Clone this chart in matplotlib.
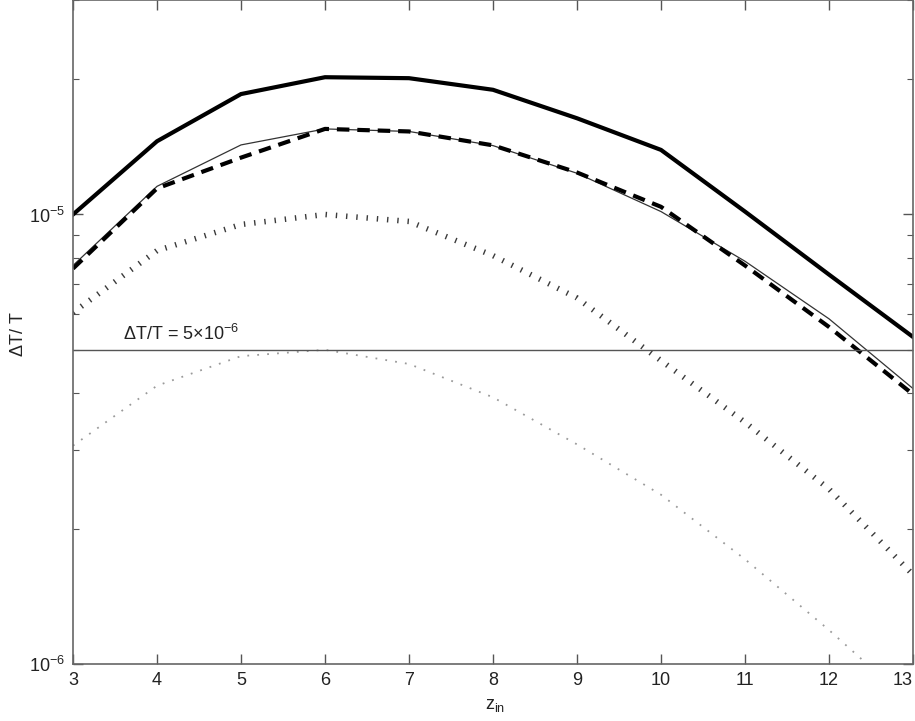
import matplotlib
matplotlib.use('Agg')
import matplotlib.pyplot as plt
from matplotlib.ticker import NullFormatter, LogLocator

plt.rcParams['font.family'] = ['Liberation Sans', 'DejaVu Sans']
plt.rcParams['mathtext.fontset'] = 'custom'
plt.rcParams['mathtext.rm'] = 'Liberation Sans'
plt.rcParams['mathtext.it'] = 'Liberation Sans:italic'
plt.rcParams['mathtext.sf'] = 'Liberation Sans'

# data (dT/T vs z_in)
z_in = [3, 4, 5, 6, 7, 8, 9, 10, 11, 12, 13]
thick_solid = [1.00e-5, 1.455e-5, 1.853e-5, 2.02e-5, 2.01e-5, 1.894e-5,
               1.637e-5, 1.392e-5, 1.015e-5, 0.735e-5, 0.534e-5]
thin_solid = [0.77e-5, 1.155e-5, 1.428e-5, 1.55e-5, 1.53e-5, 1.423e-5,
              1.235e-5, 1.015e-5, 0.787e-5, 0.586e-5, 0.41e-5]
dashed = [0.758e-5, 1.143e-5, 1.338e-5, 1.55e-5, 1.53e-5, 1.425e-5,
          1.24e-5, 1.04e-5, 0.77e-5, 0.562e-5, 0.398e-5]
thick_dotted = [0.605e-5, 0.831e-5, 0.95e-5, 1.0e-5, 0.965e-5, 0.81e-5,
                0.652e-5, 0.473e-5, 0.345e-5, 0.245e-5, 0.158e-5]
thin_dotted = [0.306e-5, 0.416e-5, 0.484e-5, 0.50e-5, 0.465e-5, 0.392e-5,
               0.308e-5, 0.238e-5, 0.171e-5, 0.119e-5, 0.081e-5]
threshold = 5e-6

fig = plt.figure(figsize=(9.15, 7.21), dpi=100)
ax = fig.add_axes([73 / 915, 57 / 721, 840 / 915, 664 / 721])

ax.plot(z_in, thick_solid, color='black', lw=3.0, solid_joinstyle='miter')
ax.plot(z_in, thin_solid, color='#333333', lw=0.9)
ax.plot(z_in, dashed, color='black', lw=3.0, dashes=(3, 1.9))
# thick dotted drawn as short perpendicular ticks, like the original
ax.plot(z_in, thick_dotted, color='#3a3a3a', lw=4.0, dashes=(0.25, 1.6),
        dash_capstyle='butt')
ax.plot(z_in, thin_dotted, color='#9a9a9a', lw=1.3, dashes=(1, 4.5),
        dash_capstyle='butt')
ax.axhline(threshold, color='#555555', lw=1.0)

ax.text(3.59, 5.25e-6, r'$\Delta$T/T = 5$\times$10$^{-6}$', fontsize=13,
        color='#222222')

ax.set_yscale('log')
ax.set_xlim(3, 13)
ax.set_ylim(1e-6, 3e-5)
ax.set_xticks(z_in)
ax.yaxis.set_major_locator(LogLocator(base=10))
ax.yaxis.set_minor_locator(LogLocator(base=10, subs=range(2, 10)))
ax.yaxis.set_minor_formatter(NullFormatter())

ax.tick_params(which='both', direction='in', top=True, right=True,
               color='#555555', labelsize=13, labelcolor='#222222')
ax.tick_params(which='major', length=7, width=1.0, pad=6)
ax.tick_params(which='minor', length=4, width=0.8)
for sp in ax.spines.values():
    sp.set_color('#666666')
    sp.set_linewidth(1.2)

# keep the last x tick label inside the figure
fig.canvas.draw()
ax.get_xticklabels()[-1].set_horizontalalignment('right')
ax.get_xticklabels()[-1].set_x(13.08)

ax.set_xlabel(r'z$_{\rm in}$', fontsize=13, color='#222222')
ax.xaxis.set_label_coords(422 / 840, -33 / 664)
ax.set_ylabel(r'$\Delta$T/ T', fontsize=13, color='#222222')
ax.yaxis.set_label_coords(-46 / 840, 330 / 664)

fig.savefig('out.png', dpi=100)
